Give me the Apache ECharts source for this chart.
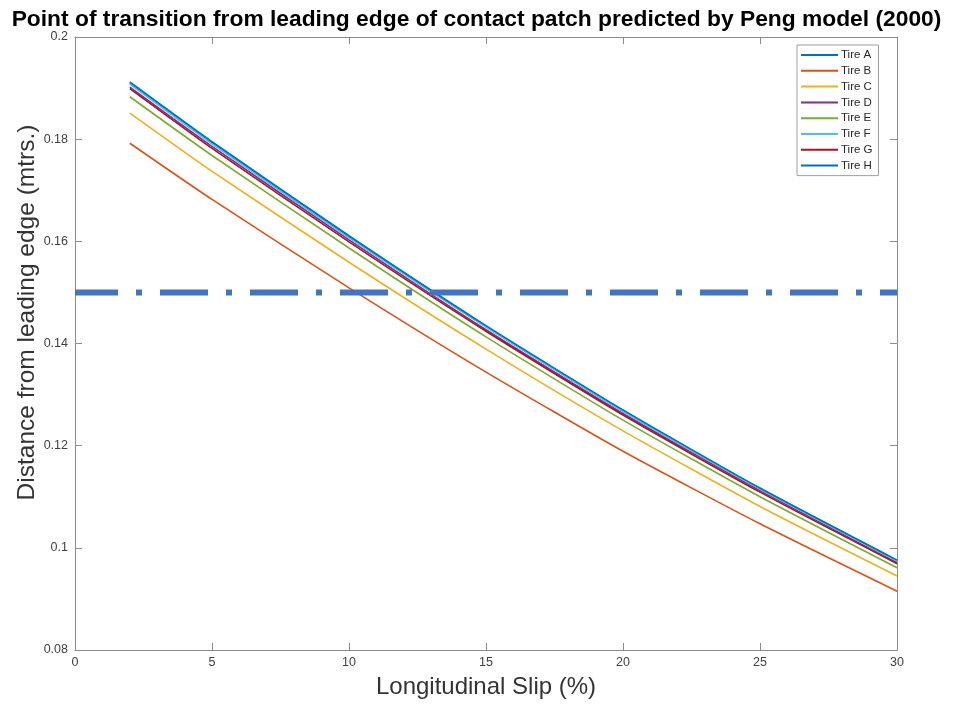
<!DOCTYPE html>
<html>
<head>
<meta charset="utf-8">
<script src="https://cdn.jsdelivr.net/npm/echarts@6/dist/echarts.min.js"></script>
<style>html,body{margin:0;padding:0;background:#fff;overflow:hidden}#c{width:953px;height:704px}</style>
</head>
<body>
<div id="c"></div>
<script>
const slip = [2, 5, 10, 15, 20, 25, 30];
const tireA = [0.1910, 0.1793, 0.1609, 0.1433, 0.1268, 0.1116, 0.0975];
const tireB = [0.1792, 0.1682, 0.1509, 0.1344, 0.1189, 0.1047, 0.0915];
const tireC = [0.1851, 0.1737, 0.1559, 0.1389, 0.1229, 0.1081, 0.0945];
const tireD = [0.1902, 0.1786, 0.1603, 0.1427, 0.1263, 0.1112, 0.0971];
const tireE = [0.1883, 0.1768, 0.1587, 0.1413, 0.1250, 0.1100, 0.0961];
const tireF = [0.1908, 0.1791, 0.1607, 0.1432, 0.1267, 0.1115, 0.0974];
const tireG = [0.1899, 0.1782, 0.1599, 0.1424, 0.1260, 0.1109, 0.0969];
const tireH = [0.1912, 0.1795, 0.1611, 0.1435, 0.1270, 0.1117, 0.0976];
const seriesNames = ['Tire A','Tire B','Tire C','Tire D','Tire E','Tire F','Tire G','Tire H'];
const seriesValues = [tireA, tireB, tireC, tireD, tireE, tireF, tireG, tireH];
const colors = ['#0072BD','#D95319','#EDB120','#7E2F8E','#77AC30','#4DBEEE','#A2142F','#0072BD'];
const thresholdX = [0, 30];
const thresholdY = [0.15, 0.15];

const chart = echarts.init(document.getElementById('c'), null, {renderer: 'canvas', width: 953, height: 704});
const axisGray = '#8c8c8c';
const labelColor = '#404040';
const series = seriesNames.map((n, i) => ({
  name: n, type: 'line', xAxisIndex: 0, yAxisIndex: 0,
  data: slip.map((s, j) => [s, seriesValues[i][j]]),
  showSymbol: false, symbol: 'none', smooth: 0.2,
  lineStyle: {color: colors[i], width: 1.6},
  itemStyle: {color: colors[i]},
  z: 3 + i
}));
series.push({
  name: 'threshold', type: 'line', xAxisIndex: 0, yAxisIndex: 0,
  data: thresholdX.map((x, j) => [x, thresholdY[j]]),
  showSymbol: false, symbol: 'none', silent: true,
  lineStyle: {color: '#4472C4', width: 6, type: [48, 18, 6, 18], dashOffset: 5, cap: 'butt'},
  z: 20
});

const tickCommon = {show: true, inside: true, length: 7, lineStyle: {color: axisGray, width: 1}};
chart.setOption({
  animation: false,
  backgroundColor: '#fff',
  title: {
    text: 'Point of transition from leading edge of contact patch predicted by Peng model (2000)',
    left: 'center', top: 3,
    textStyle: {fontFamily: 'Liberation Sans', fontWeight: 'bold', fontSize: 22.8, color: '#000'}
  },
  legend: {
    data: seriesNames,
    orient: 'vertical', left: 797, top: 45,
    padding: [4, 6, 4, 4],
    itemWidth: 37, itemHeight: 2, itemGap: 3.8,
    icon: 'rect',
    borderColor: '#a0a0a0', borderWidth: 1, backgroundColor: '#fff',
    textStyle: {fontFamily: 'Liberation Sans', fontSize: 11.5, color: '#262626', lineHeight: 12, padding: [0, 0, 0, -2]}
  },
  grid: {left: 75, right: 56, top: 37, bottom: 48, containLabel: false},
  xAxis: [{
    type: 'value', min: 0, max: 30, interval: 5, position: 'bottom',
    name: 'Longitudinal Slip (%)', nameLocation: 'middle', nameGap: 25, nameMoveOverlap: false,
    nameTextStyle: {fontFamily: 'Liberation Sans', fontSize: 24, color: '#333'},
    axisLine: {show: true, onZero: false, lineStyle: {color: axisGray}},
    axisTick: tickCommon,
    axisLabel: {fontFamily: 'Liberation Sans', fontSize: 12.5, color: labelColor, margin: 6},
    splitLine: {show: false}
  }, {
    type: 'value', min: 0, max: 30, interval: 5, position: 'top',
    axisLine: {show: true, onZero: false, lineStyle: {color: axisGray}},
    axisTick: tickCommon, axisLabel: {show: false}, splitLine: {show: false}
  }],
  yAxis: [{
    type: 'value', min: 0.08, max: 0.2, interval: 0.02, position: 'left',
    name: 'Distance from leading edge (mtrs.)', nameLocation: 'middle', nameGap: 35, nameMoveOverlap: false,
    nameTextStyle: {fontFamily: 'Liberation Sans', fontSize: 24.5, color: '#333', padding: [0, 0, 0, 62]},
    axisLine: {show: true, onZero: false, lineStyle: {color: axisGray}},
    axisTick: tickCommon,
    axisLabel: {fontFamily: 'Liberation Sans', fontSize: 12.5, color: labelColor, margin: 7,
      formatter: v => String(parseFloat(v.toFixed(2)))},
    splitLine: {show: false}
  }, {
    type: 'value', min: 0.08, max: 0.2, interval: 0.02, position: 'right',
    axisLine: {show: true, onZero: false, lineStyle: {color: axisGray}},
    axisTick: tickCommon, axisLabel: {show: false}, splitLine: {show: false}
  }],
  series: series
});
</script>
</body>
</html>
